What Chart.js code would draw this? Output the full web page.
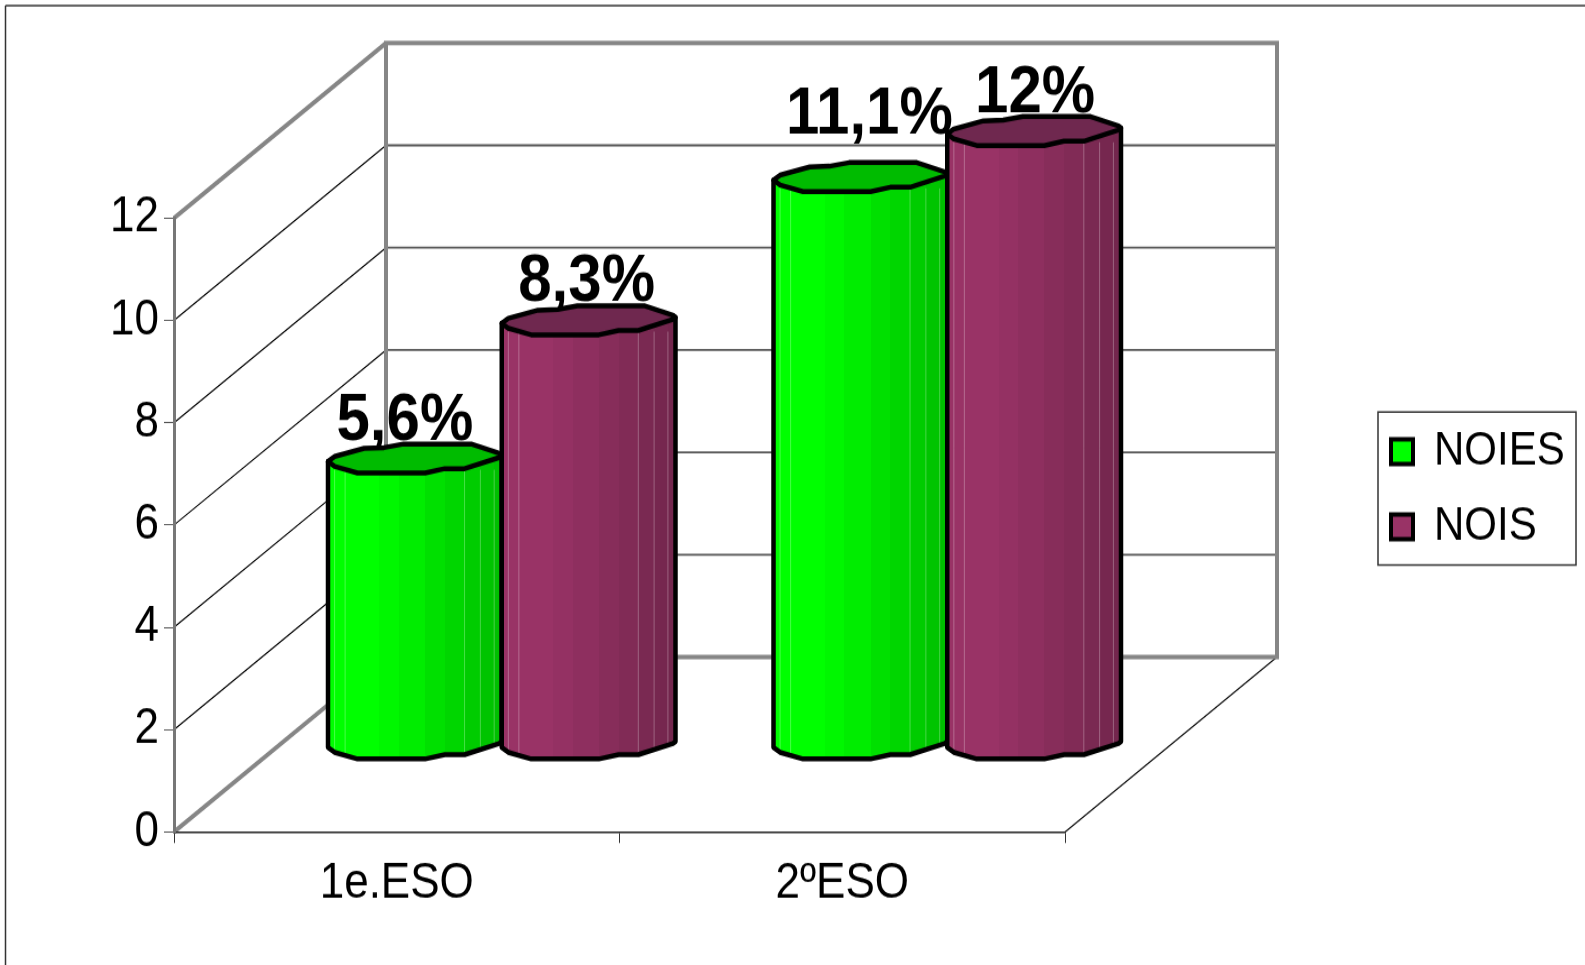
<!DOCTYPE html>
<html>
<head>
<meta charset="utf-8">
<title>NOIES / NOIS</title>
<script src="https://cdn.jsdelivr.net/npm/chart.js@4"></script>
<style>
  html, body { margin: 0; padding: 0; background: #fff; overflow: hidden; }
  /* l'original esta estirat en vertical: el llenc fa 860 i es mostra a 965 */
  #grafic { display: block; width: 1585px !important; height: 965px !important; }
</style>
</head>
<body>
<canvas id="grafic" width="1585" height="860"></canvas>
<script>
// Dades
const cursos = ['1e.ESO', '2ºESO'];
const noies = [5.6, 11.1];
const nois = [8.3, 12];
const ticksY = [0, 2, 4, 6, 8, 10, 12];

// Config comuna
const FONT = '"Liberation Sans", Arial, sans-serif';
const GREY = '#868686';
const SY = 965 / 860;               // estirament vertical del llenc
const sy = v => v / SY;             // px de pantalla -> px del llenc
const depthX = 212, depthY = sy(175);   // fons de la caixa 3D
const barDX = 105, barDY = sy(87);      // les barres van a mig fons

// tapa del cilindre (en unitats de mig ample)
const capTop = [[-1,.034],[-.924,-.023],[-.583,-.117],[-.356,-.125],[-.129,-.167],[.648,-.167],[.97,-.06],[1,-.034]];
const capLow = [[1,-.034],[.97,-.011],[.572,.117],[.345,.117],[.117,.167],[-.66,.167],[-.924,.091],[-1,.034]];
const facets = [[-1,1],[-.41,.97],[-.185,.93],[.117,.88],[.345,.84],[.572,.8],[.754,.77],[.913,.75],[1,.75]];
const shine = [-.924,-.803,.572,.754,.913];

// retocs manuals de les etiquetes (x, y) respecte a la tapa
const nudges = [[[-10,-19],[9,-44]], [[-2,-20],[1,-19]]];

function shade(rgb, k) {
  return `rgb(${rgb.map(c => Math.round(c * k)).join(',')})`;
}

function line(ctx, x1, y1, x2, y2, color, width) {
  ctx.strokeStyle = color;
  ctx.lineWidth = width;
  ctx.beginPath();
  ctx.moveTo(x1, y1);
  ctx.lineTo(x2, y2);
  ctx.stroke();
}

function tracePts(ctx, pts, cx, cy, w, first) {
  pts.forEach((p, i) => {
    const x = cx + p[0] * w, y = cy + sy(p[1] * w);
    if (i === 0 && first) ctx.moveTo(x, y); else ctx.lineTo(x, y);
  });
}

function traceBody(ctx, cx, top, base, w) {
  ctx.beginPath();
  ctx.moveTo(cx - w, top + sy(.034 * w));
  ctx.lineTo(cx - w, base + sy(.034 * w));
  tracePts(ctx, capLow.slice().reverse(), cx, base, w, false);
  ctx.lineTo(cx + w, top - sy(.034 * w));
  ctx.closePath();
}

function drawCylinder(ctx, bar, style) {
  const cx = bar.x + barDX, w = bar.width / 2;
  const top = bar.y - barDY, base = bar.base - barDY;

  // cos
  const grad = ctx.createLinearGradient(cx - w, 0, cx + w, 0);
  facets.forEach((f, i) => {
    if (i === facets.length - 1) return;
    grad.addColorStop((f[0] + 1) / 2, shade(style.rgb, f[1]));
    grad.addColorStop((facets[i + 1][0] + 1) / 2, shade(style.rgb, f[1]));
  });
  traceBody(ctx, cx, top, base, w);
  ctx.fillStyle = grad;
  ctx.fill();

  // lineetes clares
  shine.forEach(u => {
    line(ctx, cx + u * w, top + 10, cx + u * w, base + 8, 'rgba(255,255,255,.28)', 1);
  });

  ctx.lineJoin = 'round';
  ctx.strokeStyle = '#000';
  ctx.lineWidth = 4.5;
  traceBody(ctx, cx, top, base, w);
  ctx.stroke();

  // tapa
  ctx.beginPath();
  tracePts(ctx, capTop, cx, top, w, true);
  tracePts(ctx, capLow, cx, top, w, false);
  ctx.closePath();
  ctx.fillStyle = style.cap;
  ctx.fill();
  ctx.stroke();
}

function valueLabel(v) {
  return String(v).replace('.', ',') + '%';
}

const box3d = {
  id: 'box3d',
  beforeDraw(chart) {
    const { ctx, chartArea: a, scales: { y } } = chart;
    ctx.save();
    ctx.fillStyle = '#fff';
    ctx.fillRect(0, 0, chart.width, chart.height);
    // marc exterior
    line(ctx, 5.5, sy(5.5), 5.5, chart.height, '#333', 1.5);
    line(ctx, 5.5, sy(5.5), chart.width, sy(5.5), '#333', 1.5);

    // graella: paret esquerra i paret del fons
    y.ticks.forEach((t, i) => {
      const py = y.getPixelForTick(i);
      if (t.value === 0 || t.value === y.max) return;
      line(ctx, a.left, py, a.left + depthX, py - depthY, '#000', 1.2);
      line(ctx, a.left + depthX, py - depthY, a.right + depthX, py - depthY, '#555', 1.8);
    });
    line(ctx, a.right, a.bottom, a.right + depthX, a.bottom - depthY, '#111', 1.3);

    // vores gruixudes
    line(ctx, a.left, a.top, a.left + depthX, a.top - depthY, GREY, 4);
    line(ctx, a.left, a.bottom, a.left + depthX, a.bottom - depthY, GREY, 4);
    ctx.strokeStyle = GREY;
    ctx.lineWidth = 4;
    ctx.strokeRect(a.left + depthX, a.top - depthY, a.right - a.left, a.bottom - a.top);

    // marc de la llegenda
    ctx.strokeStyle = '#333';
    ctx.lineWidth = 1.5;
    ctx.strokeRect(1378, sy(412), 198, sy(153));
    ctx.restore();
  },
  beforeDatasetsDraw(chart) {
    const { ctx } = chart;
    ctx.save();
    cursos.forEach((c, i) => {
      chart.data.datasets.forEach((ds, d) => {
        drawCylinder(ctx, chart.getDatasetMeta(d).data[i], ds.cyl);
      });
    });
    // etiquetes de valor
    ctx.fillStyle = '#000';
    ctx.textAlign = 'center';
    ctx.textBaseline = 'alphabetic';
    ctx.font = 'bold 60px ' + FONT;
    chart.data.datasets.forEach((ds, d) => {
      ds.data.forEach((v, i) => {
        const bar = chart.getDatasetMeta(d).data[i];
        const n = nudges[d][i];
        ctx.fillText(valueLabel(v), bar.x + barDX + n[0], bar.y - barDY + sy(n[1]));
      });
    });
    ctx.restore();
    return false;
  }
};

// col·loca la llegenda a la dreta, fora de l'area
const placeLegend = {
  id: 'placeLegend',
  afterLayout(chart) {
    const l = chart.legend;
    l.left = 1366;
    l.top = sy(400);
    l.right = 1585;
    l.bottom = chart.height;
  }
};

new Chart(document.getElementById('grafic'), {
  type: 'bar',
  data: {
    labels: cursos,
    datasets: [
      { label: 'NOIES', data: noies, backgroundColor: '#00ff00', borderColor: '#000', borderWidth: 4,
        cyl: { rgb: [0, 255, 0], cap: '#00bb00' } },
      { label: 'NOIS', data: nois, backgroundColor: '#993366', borderColor: '#000', borderWidth: 4,
        cyl: { rgb: [153, 51, 102], cap: '#6f284f' } }
    ]
  },
  options: {
    responsive: false,
    animation: false,
    layout: { padding: { left: 0, top: sy(218), right: 520, bottom: 0 } },
    datasets: { bar: { categoryPercentage: .78, barPercentage: 1 } },
    scales: {
      x: {
        afterFit: s => { s.height = sy(133); },
        border: { color: '#222', width: 1.5 },
        grid: { drawOnChartArea: false, tickLength: sy(11), color: '#333' },
        ticks: { color: '#000', padding: 10, font: { family: FONT, size: 44 } }
      },
      y: {
        min: 0,
        max: 12,
        afterFit: s => { s.width = 174; },
        afterBuildTicks: s => { s.ticks = ticksY.map(value => ({ value })); },
        border: { color: '#777', width: 3 },
        grid: { drawOnChartArea: false, tickLength: 10, color: '#555' },
        ticks: { color: '#000', padding: 5, font: { family: FONT, size: 44 } }
      }
    },
    plugins: {
      tooltip: { enabled: false },
      legend: {
        position: 'chartArea',
        align: 'start',
        labels: {
          boxWidth: 22,
          boxHeight: 22,
          padding: 25,
          color: '#000',
          font: { family: FONT, size: 42 }
        }
      }
    }
  },
  plugins: [box3d, placeLegend]
});
</script>
</body>
</html>
